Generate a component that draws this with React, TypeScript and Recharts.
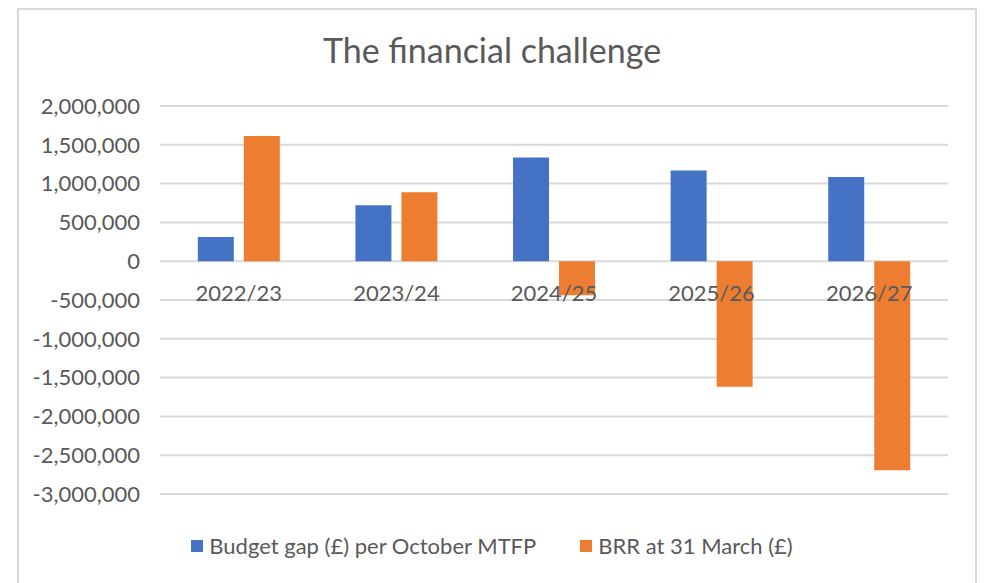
import React from "react";
import {
  BarChart,
  Bar,
  CartesianGrid,
  XAxis,
  YAxis,
} from "recharts";

const years = ["2022/23", "2023/24", "2024/25", "2025/26", "2026/27"];
const budgetGap = [313000, 720000, 1335000, 1168000, 1086000];
const brr = [1613000, 890000, -438000, -1618000, -2695000];
const yTicks = [-3000000, -2500000, -2000000, -1500000, -1000000, -500000, 0, 500000, 1000000, 1500000, 2000000];

const series = [
  { key: "gap", name: "Budget gap (£) per October MTFP", color: "#4472C4" },
  { key: "brr", name: "BRR at 31 March (£)", color: "#ED7D31" },
];

const data = years.map((year, i) => ({
  year,
  gap: budgetGap[i],
  brr: brr[i],
}));

const FONT = "Lato, 'Open Sans', sans-serif";
const TEXT = "#595959";
const W = 984;
const H = 583;
const X_AXIS_H = 30;
const MARGIN = { top: 106, right: 36, bottom: 89 - X_AXIS_H, left: 0 };
const Y_MIN = -3000000;
const Y_MAX = 2000000;
const plotH = H - 106 - 89;

// category labels sit just under the zero line, like the Excel original
const YearTick = (props: any) => {
  const { x, payload } = props;
  const zeroY = MARGIN.top + (plotH * Y_MAX) / (Y_MAX - Y_MIN);
  return (
    <text
      x={x}
      y={zeroY + 40}
      textAnchor="middle"
      fill={TEXT}
      fontSize={22}
      fontFamily={FONT}
    >
      {payload.value}
    </text>
  );
};

const fmt = (v: number) => (v === 0 ? "0" : v.toLocaleString("en-US"));

export default function App() {
  return (
    <div
      style={{
        position: "absolute",
        left: 0,
        top: 0,
        width: W,
        height: H,
        background: "#fff",
        fontFamily: FONT,
        overflow: "hidden",
      }}
    >
      <div
        style={{
          position: "absolute",
          left: 17,
          top: 8,
          width: 960,
          height: 590,
          border: "2px solid #d9d9d9",
          boxSizing: "border-box",
        }}
      />
      <div
        style={{
          position: "absolute",
          left: 0,
          top: 29,
          width: W,
          textAlign: "center",
          fontSize: 34,
          color: TEXT,
        }}
      >
        The financial challenge
      </div>
      <BarChart
        width={W}
        height={H}
        data={data}
        margin={MARGIN}
        barGap={10}
        barCategoryGap="24%"
        style={{ position: "absolute", left: 0, top: 0 }}
      >
        <CartesianGrid vertical={false} stroke="#d9d9d9" strokeWidth={2} />
        <XAxis
          dataKey="year"
          axisLine={false}
          tickLine={false}
          tick={<YearTick />}
          height={X_AXIS_H}
          interval={0}
        />
        <YAxis
          domain={[Y_MIN, Y_MAX]}
          ticks={yTicks}
          tickFormatter={fmt}
          axisLine={false}
          tickLine={false}
          tickSize={0}
          tickMargin={20}
          width={160}
          interval={0}
          tick={{ fill: TEXT, fontSize: 22, fontFamily: FONT }}
        />
        {series.map((s) => (
          <Bar
            key={s.key}
            dataKey={s.key}
            name={s.name}
            fill={s.color}
            isAnimationActive={false}
          />
        ))}
      </BarChart>
      <div
        style={{
          position: "absolute",
          left: 0,
          top: 532,
          width: W,
          display: "flex",
          justifyContent: "center",
          gap: 44,
          fontSize: 22,
          color: TEXT,
          lineHeight: "28px",
        }}
      >
        {series.map((s) => (
          <div key={s.key} style={{ display: "flex", alignItems: "center" }}>
            <span
              style={{
                display: "inline-block",
                width: 12,
                height: 12,
                background: s.color,
                marginRight: 6,
              }}
            />
            {s.name}
          </div>
        ))}
      </div>
    </div>
  );
}
